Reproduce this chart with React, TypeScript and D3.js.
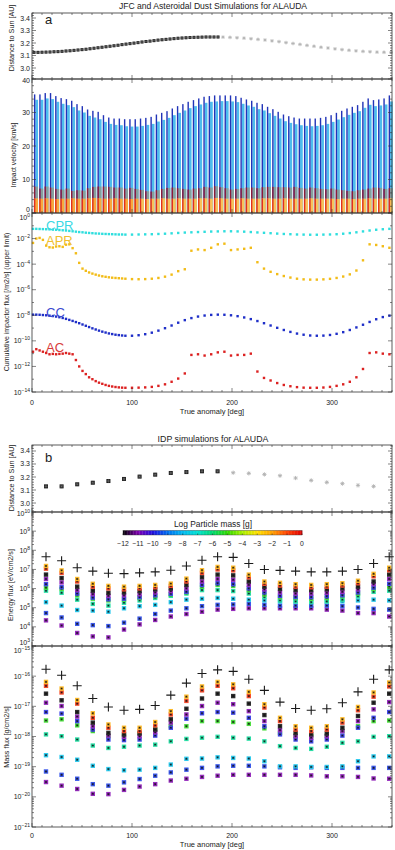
import React from "react";
import * as d3 from "d3";

const FONT = "'Liberation Sans', Arial, Helvetica, sans-serif";

// ---------------- Panel a : distance to Sun ----------------
const distAAnomBlack = [2,6,10,14,18,22,26,30,34,38,42,46,50,54,58,62,66,70,74,78,82,86,90,94,98,102,106,110,114,118,122,126,130,134,138,142,146,150,154,158,162,166,170,174,178,182,186];
const distABlack = [3.125,3.125,3.126,3.127,3.128,3.130,3.131,3.133,3.136,3.138,3.141,3.144,3.147,3.150,3.154,3.158,3.162,3.166,3.170,3.174,3.178,3.182,3.187,3.191,3.195,3.199,3.203,3.208,3.212,3.215,3.219,3.223,3.226,3.229,3.232,3.235,3.238,3.240,3.242,3.244,3.245,3.246,3.247,3.248,3.248,3.248,3.248];
const distAAnomGray = [191,198,205,212,219,226,233,240,247,254,261,268,275,282,289,296,303,310,317,324,331,338,345,352,359];
const distAGray = [3.247,3.245,3.242,3.239,3.234,3.229,3.224,3.217,3.211,3.203,3.196,3.189,3.181,3.174,3.166,3.160,3.153,3.147,3.142,3.137,3.133,3.130,3.127,3.126,3.125];

// ---------------- Panel a : impact velocity (km/s) ----------------
const velCC = [35.4,35.4,35.8,35.8,34.9,34.3,34.0,33.5,32.5,31.9,30.9,30.5,30.2,29.2,28.5,28.2,28.2,28.0,28.0,28.0,28.2,28.4,28.7,29.4,29.9,30.4,31.2,31.9,32.5,33.2,33.7,34.2,34.7,34.9,35.1,35.1,35.1,35.1,34.9,34.4,33.9,33.5,32.9,32.5,31.7,31.0,30.2,29.4,28.9,28.5,28.2,28.2,28.2,28.2,28.4,28.7,29.2,29.9,30.5,31.2,31.7,32.2,33.2,34.2,33.7,33.9,34.2,35.1];
const velCPR = [33.8,33.8,34.2,34.0,33.2,32.6,32.2,31.6,30.6,30.0,29.0,28.5,28.0,27.2,26.6,26.3,26.2,25.9,25.8,25.8,26.0,26.3,26.6,27.3,27.8,28.4,29.2,29.9,30.6,31.3,31.9,32.4,32.9,33.2,33.3,33.4,33.4,33.3,33.1,32.6,32.1,31.7,31.0,30.6,29.8,29.0,28.2,27.4,26.9,26.5,26.2,26.0,25.9,26.0,26.2,26.6,27.2,27.9,28.6,29.3,29.9,30.4,31.4,32.3,31.9,32.1,32.4,33.3];
const velAC = [7.9,7.3,7.9,7.6,7.2,7.0,7.3,6.6,6.8,6.7,7.4,7.8,7.9,7.9,7.8,7.6,7.6,7.3,7.5,7.2,6.9,6.5,6.4,6.8,7.2,7.5,7.6,7.4,7.2,7.0,7.3,7.4,7.8,7.6,8.0,7.7,7.4,7.0,7.2,7.4,7.6,7.6,7.4,7.7,7.8,7.8,7.7,7.7,7.6,7.8,7.5,7.3,7.6,7.4,7.2,7.1,7.3,7.0,6.8,6.6,6.5,6.8,7.0,7.3,7.6,7.5,7.2,7.4];
const velAPR = [4.4,4.3,4.4,4.3,4.2,4.3,4.3,4.4,4.3,4.3,4.4,4.5,4.4,4.3,4.3,4.4,4.3,4.3,4.2,4.3,4.3,4.2,4.3,4.3,4.4,4.3,4.3,4.4,4.3,4.3,4.3,4.4,4.4,4.3,4.5,4.4,4.3,4.3,4.3,4.4,4.3,4.3,4.3,4.4,4.4,4.3,4.3,4.4,4.3,4.3,4.3,4.3,4.4,4.3,4.3,4.3,4.3,4.2,4.3,4.3,4.2,4.3,4.3,4.4,4.3,4.3,4.3,4.4];

// ---------------- Panel a : cumulative impactor flux (log10 /m2/s) ----------------
const fluxAnom = [1,4.3,7.6,10.9,14.2,17.5,20.8,24.1,27.4,30.7,34,37.3,40.6,43.9,47.2,50.5,53.8,57.1,60.4,63.7,67,70.3,73.6,76.9,80.2,83.5,86.8,90.1,93.4,100,106.6,113.2,119.8,126.4,133,139.6,146.2,152.8,159.4,166,172.6,179.2,185.8,192.4,199,205.6,212.2,218.8,225.4,232,238.6,245.2,251.8,258.4,265,271.6,278.2,284.8,291.4,298,304.6,311.2,317.8,324.4,331,337.6,344.2,350.8,357.4];
const logCPR = [-1.24,-1.24,-1.25,-1.26,-1.27,-1.28,-1.30,-1.31,-1.33,-1.35,-1.37,-1.40,-1.43,-1.46,-1.49,-1.51,-1.54,-1.56,-1.58,-1.60,-1.61,-1.63,-1.64,-1.65,-1.66,-1.67,-1.68,-1.68,-1.69,-1.69,-1.68,-1.67,-1.66,-1.64,-1.62,-1.59,-1.56,-1.53,-1.51,-1.49,-1.47,-1.45,-1.44,-1.43,-1.43,-1.44,-1.46,-1.49,-1.52,-1.55,-1.58,-1.61,-1.64,-1.66,-1.68,-1.69,-1.70,-1.70,-1.69,-1.68,-1.66,-1.62,-1.57,-1.51,-1.44,-1.37,-1.31,-1.27,-1.24];
const logAPR = [-2.34,-2.00,-1.95,-2.10,-2.55,-2.68,-2.70,-2.62,-2.60,-2.65,-2.48,-2.45,-2.75,-3.15,-3.90,-4.35,-4.52,-4.65,-4.74,-4.82,-4.89,-4.95,-4.99,-5.03,-5.06,-5.08,-5.10,-5.12,-5.14,-5.17,-5.18,-5.17,-5.14,-5.08,-4.98,-4.82,-4.55,-4.40,-2.95,-2.85,-2.90,-2.72,-2.45,-2.40,-2.90,-2.85,-2.80,-2.72,-3.85,-4.35,-4.60,-4.78,-4.93,-5.05,-5.14,-5.19,-5.21,-5.21,-5.19,-5.15,-5.08,-4.97,-4.80,-4.50,-3.70,-2.45,-2.50,-2.60,-2.72];
const logCC = [-7.95,-7.95,-7.96,-7.98,-8.00,-8.03,-8.06,-8.10,-8.15,-8.21,-8.28,-8.36,-8.44,-8.53,-8.62,-8.72,-8.82,-8.92,-9.02,-9.11,-9.20,-9.28,-9.35,-9.42,-9.47,-9.52,-9.55,-9.58,-9.60,-9.60,-9.56,-9.48,-9.36,-9.20,-9.01,-8.80,-8.58,-8.38,-8.22,-8.10,-8.02,-7.97,-7.95,-7.96,-8.00,-8.07,-8.17,-8.30,-8.45,-8.62,-8.80,-8.98,-9.15,-9.30,-9.43,-9.52,-9.58,-9.60,-9.59,-9.54,-9.45,-9.32,-9.15,-8.95,-8.74,-8.52,-8.31,-8.14,-8.03];
const logAC = [-10.85,-10.65,-10.75,-10.85,-10.95,-11.05,-11.02,-11.05,-11.02,-11.00,-10.95,-11.00,-11.05,-11.50,-12.00,-12.35,-12.60,-12.85,-13.00,-13.15,-13.27,-13.36,-13.45,-13.52,-13.57,-13.61,-13.64,-13.66,-13.67,-13.67,-13.66,-13.64,-13.60,-13.52,-13.40,-13.20,-12.95,-12.55,-11.10,-11.05,-11.15,-11.05,-10.90,-10.85,-11.15,-11.10,-11.10,-11.00,-12.40,-12.90,-13.10,-13.30,-13.45,-13.55,-13.62,-13.66,-13.67,-13.67,-13.65,-13.60,-13.52,-13.40,-13.20,-12.85,-12.20,-10.95,-10.90,-11.00,-11.05];

// ---------------- Panel b ----------------
const idpAnom = [14,29.6,45.2,60.8,76.4,92,107.6,123.2,138.8,154.4,170,185.6,201.2,216.8,232.4,248,263.6,279.2,294.8,310.4,326,341.6,357.2];
const distB = [3.128,3.128,3.144,3.156,3.169,3.185,3.203,3.218,3.231,3.238,3.244,3.244,3.233,3.228,3.220,3.210,3.192,3.174,3.159,3.149,3.136,3.128];
const distBBlackCount = 12;

// energy flux, log10 eV/cm2/s
const eTotal = [7.66,7.45,7.09,6.91,6.80,6.78,6.82,6.87,6.96,7.18,7.48,7.66,7.63,7.31,7.00,6.95,6.91,6.87,6.87,6.91,7.00,7.31,7.66];
const eOrange = [7.18,6.95,6.50,6.25,6.14,6.10,6.14,6.19,6.26,6.52,6.96,7.13,7.09,6.73,6.37,6.30,6.23,6.19,6.23,6.28,6.41,6.77,7.09];
const eRed = [7.04,6.82,6.37,6.10,6.01,5.96,6.01,6.07,6.14,6.37,6.82,7.00,6.95,6.59,6.25,6.16,6.10,6.07,6.10,6.16,6.28,6.64,6.96];
const eBlack = [6.73,6.55,6.10,5.89,5.78,5.80,5.87,5.96,6.01,6.19,6.59,6.73,6.69,6.37,6.10,5.98,5.92,5.92,5.96,6.01,6.10,6.37,6.73];
const ePurpleUp = [6.50,6.32,5.92,5.71,5.62,5.65,5.71,5.80,5.87,6.01,6.37,6.50,6.46,6.19,5.96,5.80,5.74,5.74,5.78,5.83,5.96,6.23,6.50];
const eBlueUp = [6.23,6.07,5.74,5.53,5.44,5.47,5.55,5.65,5.73,5.83,6.19,6.28,6.23,6.01,5.80,5.62,5.56,5.56,5.60,5.65,5.80,6.05,6.25];
const eGreen = [6.05,5.98,5.65,5.47,5.38,5.42,5.51,5.60,5.69,5.80,6.10,6.19,6.14,5.92,5.69,5.55,5.51,5.47,5.51,5.60,5.74,5.98,6.10];
const eTeal = [5.89,5.78,5.42,5.20,5.11,5.26,5.38,5.51,5.62,5.74,5.92,5.92,5.87,5.74,5.56,5.38,5.33,5.29,5.33,5.42,5.60,5.83,5.89];
const eCyan = [5.29,5.11,4.88,4.85,4.79,4.97,5.08,5.15,5.29,5.42,5.47,5.51,5.47,5.42,5.38,5.33,5.33,5.33,5.33,5.33,5.38,5.42,5.38];
const eBlueLow = [4.72,4.49,4.16,4.09,4.04,4.22,4.43,4.67,4.85,4.97,5.08,5.15,5.17,5.20,5.15,5.11,5.11,5.11,5.11,5.08,5.01,4.94,4.90];
const ePurpleLow = [4.34,4.07,3.68,3.50,3.45,3.86,4.13,4.36,4.54,4.67,4.79,4.90,4.94,4.97,4.97,4.97,4.97,4.97,4.90,4.85,4.72,4.72,4.54];

// mass flux, log10 g/cm2/s
const mTotal = [-15.77,-15.97,-16.32,-16.74,-17.02,-17.13,-17.10,-16.97,-16.63,-16.23,-15.91,-15.79,-15.84,-16.10,-16.47,-16.86,-17.07,-17.13,-17.08,-16.88,-16.52,-16.10,-15.79];
const mOrange = [-16.19,-16.41,-16.79,-17.23,-17.60,-17.71,-17.71,-17.52,-17.16,-16.68,-16.34,-16.19,-16.27,-16.52,-16.93,-17.38,-17.66,-17.71,-17.66,-17.43,-17.02,-16.54,-16.21];
const mRed = [-16.32,-16.54,-16.91,-17.38,-17.71,-17.82,-17.82,-17.63,-17.27,-16.82,-16.47,-16.32,-16.40,-16.66,-17.04,-17.49,-17.77,-17.82,-17.77,-17.54,-17.13,-16.68,-16.34];
const mBlack = [-16.58,-16.80,-17.19,-17.54,-17.88,-17.93,-17.90,-17.77,-17.43,-17.08,-16.74,-16.58,-16.66,-16.91,-17.29,-17.66,-17.88,-17.93,-17.90,-17.71,-17.32,-16.88,-16.58];
const mPurpleUp = [-16.88,-16.99,-17.34,-17.66,-17.97,-18.01,-17.99,-17.86,-17.54,-17.27,-16.99,-16.88,-16.93,-17.16,-17.49,-17.79,-17.99,-18.04,-17.99,-17.82,-17.49,-17.10,-16.86];
const mBlueUp = [-17.19,-17.24,-17.49,-17.77,-18.10,-18.12,-18.10,-17.97,-17.71,-17.41,-17.23,-17.19,-17.21,-17.38,-17.66,-17.93,-18.10,-18.16,-18.10,-17.97,-17.71,-17.38,-17.19];
const mGreen = [-17.47,-17.43,-17.63,-17.82,-17.99,-17.97,-17.88,-17.77,-17.66,-17.66,-17.49,-17.49,-17.52,-17.58,-17.73,-17.88,-17.97,-17.99,-17.97,-17.82,-17.66,-17.49,-17.47];
const mTeal = [-17.93,-17.99,-18.10,-18.30,-18.38,-18.34,-18.30,-18.27,-18.16,-18.08,-18.04,-18.01,-18.04,-18.07,-18.16,-18.32,-18.38,-18.41,-18.34,-18.21,-18.16,-18.01,-17.99];
const mCyan = [-18.62,-18.68,-18.77,-18.97,-19.08,-19.12,-19.10,-19.04,-18.93,-18.74,-18.73,-18.69,-18.71,-18.73,-18.82,-18.99,-18.99,-19.01,-19.01,-18.99,-18.82,-18.66,-18.66];
const mBlueLow = [-19.16,-19.27,-19.40,-19.58,-19.63,-19.52,-19.41,-19.30,-19.19,-19.10,-19.04,-18.99,-18.97,-18.97,-18.99,-19.02,-19.04,-19.02,-19.04,-19.04,-19.04,-19.04,-19.04];
const mPurpleLow = [-19.51,-19.63,-19.74,-19.90,-19.91,-19.77,-19.66,-19.58,-19.46,-19.40,-19.34,-19.30,-19.27,-19.27,-19.27,-19.27,-19.27,-19.29,-19.32,-19.32,-19.34,-19.39,-19.40];

// log particle mass [g] of each marker series (draw order: bottom first)
const seriesMass = [-11.0, -9.6, -7.8, -6.4, -5.2, -9.8, -11.0, -12.0, -0.6, -2.2];
const energySeries = [ePurpleLow, eBlueLow, eCyan, eTeal, eGreen, eBlueUp, ePurpleUp, eBlack, eRed, eOrange];
const massSeries = [mPurpleLow, mBlueLow, mCyan, mTeal, mGreen, mBlueUp, mPurpleUp, mBlack, mRed, mOrange];

const cbStops = [-12,-11,-10,-9,-8,-7,-6,-5,-4,-3,-2,-1,0];
const cbColors = ["#000000","#8000b0","#2010e0","#0070f0","#00b8f0","#00e0d0","#00d870","#30d800","#a8f000","#ffe000","#ffa000","#ff4000","#e00000"];

// ---------------- layout ----------------
const X0 = 32, X1 = 392;
const x = d3.scaleLinear().domain([0, 360]).range([X0, X1]);
const yDistA = d3.scaleLinear().domain([2.912, 3.44]).range([79, 13]);
const yVel = d3.scaleLinear().domain([0, 40]).range([213, 79]);
const yFlux = d3.scaleLog().domain([1e-14, 1]).range([392, 213]);
const yDistB = d3.scaleLinear().domain([2.931, 3.446]).range([512, 445]);
const yEn = d3.scaleLog().domain([1e3, 1e10]).range([646, 512]);
const yMass = d3.scaleLog().domain([1e-21, 1e-15]).range([827, 646]);

type Tick = { y: number; major: boolean };

function linTicks(s: d3.ScaleLinear<number, number>, major: number[], minorStep: number): Tick[] {
  const [a, b] = s.domain();
  const out: Tick[] = [];
  const start = Math.ceil(a / minorStep - 1e-6) * minorStep;
  for (let v = start; v <= b + 1e-9; v += minorStep) {
    const isMaj = major.some((m) => Math.abs(m - v) < 1e-6);
    out.push({ y: s(v), major: isMaj });
  }
  return out;
}
function logTicks(s: d3.ScaleLogarithmic<number, number>, e0: number, e1: number, mode: "decade" | "even"): Tick[] {
  const out: Tick[] = [];
  for (let e = e0; e <= e1; e++) {
    if (mode === "even") {
      out.push({ y: s(Math.pow(10, e)), major: e % 2 === 0 });
    } else {
      out.push({ y: s(Math.pow(10, e)), major: true });
      if (e < e1) for (let k = 2; k <= 9; k++) out.push({ y: s(k * Math.pow(10, e)), major: false });
    }
  }
  return out;
}

function Frame({ y0, y1, ticks }: { y0: number; y1: number; ticks: Tick[] }) {
  const els: React.ReactNode[] = [];
  d3.range(0, 361, 10).forEach((v) => {
    const len = v % 100 === 0 ? 4 : 2;
    const px = x(v);
    els.push(<line key={"b" + v} x1={px} x2={px} y1={y1} y2={y1 - len} />);
    els.push(<line key={"t" + v} x1={px} x2={px} y1={y0} y2={y0 + len} />);
  });
  ticks.forEach((t, i) => {
    if (t.y < y0 - 0.5 || t.y > y1 + 0.5) return;
    const len = t.major ? 4 : 2;
    els.push(<line key={"l" + i} x1={X0} x2={X0 + len} y1={t.y} y2={t.y} />);
    els.push(<line key={"r" + i} x1={X1} x2={X1 - len} y1={t.y} y2={t.y} />);
  });
  return (
    <g stroke="#333" strokeWidth={0.6} fill="none">
      {els}
      <rect x={X0} y={y0} width={X1 - X0} height={y1 - y0} strokeWidth={0.8} />
    </g>
  );
}

function LinLabels({ s, vals, fmt, nudge = {} }: { s: (v: number) => number; vals: number[]; fmt: (v: number) => string; nudge?: Record<string, number> }) {
  return (
    <g fontSize={7} fill="#222" textAnchor="end">
      {vals.map((v) => (
        <text key={v} x={30} y={s(v) + 2.5 + (nudge[String(v)] || 0)}>{fmt(v)}</text>
      ))}
    </g>
  );
}
function LogLabels({ s, exps, nudge = {} }: { s: (v: number) => number; exps: number[]; nudge?: Record<string, number> }) {
  return (
    <g fill="#222" textAnchor="end">
      {exps.map((e) => (
        <text key={e} x={30} y={s(Math.pow(10, e)) + 2.5 + (nudge[String(e)] || 0)} fontSize={7}>
          10<tspan fontSize={5} dy={-3}>{e < 0 ? "\u2212" + Math.abs(e) : String(e)}</tspan>
        </text>
      ))}
    </g>
  );
}
function YTitle({ x: tx, y: ty, text, size = 7.2 }: { x: number; y: number; text: string; size?: number }) {
  return (
    <text transform={`translate(${tx},${ty}) rotate(-90)`} textAnchor="middle" fontSize={size} fill="#222">{text}</text>
  );
}
function XAxisLabels({ yl, yt }: { yl: number; yt: number }) {
  return (
    <g fill="#222" textAnchor="middle">
      {[0, 100, 200, 300].map((v) => (
        <text key={v} x={x(v)} y={yl} fontSize={7}>{v}</text>
      ))}
      <text x={(X0 + X1) / 2} y={yt} fontSize={7.5}>True anomaly [deg]</text>
    </g>
  );
}

function Asterisk({ cx, cy, r, color, w }: { cx: number; cy: number; r: number; color: string; w: number }) {
  const d = r * 0.7071;
  return (
    <path
      d={`M${cx - r},${cy}H${cx + r}M${cx},${cy - r}V${cy + r}M${cx - d},${cy - d}L${cx + d},${cy + d}M${cx - d},${cy + d}L${cx + d},${cy - d}`}
      stroke={color}
      strokeWidth={w}
      fill="none"
    />
  );
}

export default function App() {
  const cmap = d3.scaleLinear<string>().domain(cbStops).range(cbColors).interpolate(d3.interpolateRgb);
  const markerColor = (m: number) => d3.interpolateRgb(cmap(m), "#ffffff")(0.18);
  const vBand = d3.scaleBand<number>().domain(d3.range(velCC.length)).range([x(0), x(360)]);
  const bw = vBand.bandwidth();

  // colorbar
  const cbX = d3.scaleLinear().domain([-12, 0]).range([123, 302]);
  const cbSteps = d3.range(-12, 0, 0.1);

  return (
    <div style={{ position: "absolute", left: 0, top: 0 }}>
      <svg width={395} height={850} viewBox="0 0 395 850" style={{ display: "block", background: "#fff" }} fontFamily={FONT}>
        <rect x={0} y={0} width={395} height={850} fill="#fff" />

        {/* ===================== Panel a ===================== */}
        <text x={213} y={8.5} textAnchor="middle" fontSize={8.6} fill="#222">JFC and Asteroidal Dust Simulations for ALAUDA</text>

        {/* distance */}
        {distAAnomGray.map((a, i) => (
          <Asterisk key={"ga" + i} cx={x(a)} cy={yDistA(distAGray[i])} r={1.8} color="#b4b4b4" w={0.9} />
        ))}
        {distAAnomBlack.map((a, i) => (
          <g key={"ba" + i}>
            <rect x={x(a) - 1.5} y={yDistA(distABlack[i]) - 1.5} width={3} height={3} fill="#151515" />
            <Asterisk cx={x(a)} cy={yDistA(distABlack[i])} r={1.6} color="#666" w={0.4} />
          </g>
        ))}
        <Frame y0={13} y1={79} ticks={linTicks(yDistA, [3.0, 3.1, 3.2, 3.3, 3.4], 0.02)} />
        <LinLabels s={yDistA} vals={[3.0, 3.1, 3.2, 3.3, 3.4]} fmt={(v) => v.toFixed(1)} />
        <text x={45} y={24} fontSize={13} fill="#222">a</text>
        <YTitle x={14} y={38} text="Distance to Sun [AU]" />

        {/* velocity bars */}
        <g>
          {velCC.map((v, i) => {
            const c = (vBand(i) as number) + bw / 2;
            const y0 = yVel(0);
            const yApr = yVel(velAPR[i]);
            const yAc = yVel(velAC[i]);
            return (
              <g key={"v" + i}>
                <rect x={c + 0.7} y={yVel(velCPR[i])} width={2.7} height={y0 - yVel(velCPR[i])} fill="#4cbdee" />
                <rect x={c - 0.7} y={yVel(v)} width={1.4} height={y0 - yVel(v)} fill="#2234b8" />
                <rect x={c + 0.7} y={yAc} width={2.7} height={yApr - yAc} fill="#9a9580" opacity={0.75} />
                <rect x={c - 0.7} y={yApr} width={4.1} height={y0 - yApr} fill={i < 20 ? "#f9a83c" : "#f8c25a"} />
                <rect x={c - 0.7} y={yAc} width={1.4} height={yApr - yAc} fill="#8c1c38" />
                <rect x={c - 0.7} y={yApr} width={1.4} height={y0 - yApr} fill="#e2301e" />
              </g>
            );
          })}
        </g>
        <Frame y0={79} y1={213} ticks={linTicks(yVel, [0, 10, 20, 30, 40], 2)} />
        <LinLabels s={yVel} vals={[0, 10, 20, 30, 40]} fmt={(v) => String(v)} nudge={{ "0": -4, "40": 1.5 }} />
        <YTitle x={16} y={155} text="Impact velocity [km/s]" size={6.8} />

        {/* flux */}
        {[
          { d: logCPR, c: "#2fdede" },
          { d: logAPR, c: "#f2bc18" },
          { d: logCC, c: "#1f2fc8" },
          { d: logAC, c: "#dc2222" },
        ].map((s, si) => (
          <g key={"fs" + si} fill={s.c}>
            {s.d.map((lv, i) => (
              <rect key={i} x={x(fluxAnom[i]) - 1.2} y={yFlux(Math.pow(10, lv)) - 1.2} width={2.4} height={2.4} />
            ))}
          </g>
        ))}
        <g fontSize={13}>
          <text x={46} y={230} fill="#3ad8e4">CPR</text>
          <text x={46} y={245} fill="#f0c030">APR</text>
          <text x={46} y={317} fill="#3a48d0">CC</text>
          <text x={46} y={352} fill="#d83a3a">AC</text>
        </g>
        <Frame y0={213} y1={392} ticks={logTicks(yFlux, -14, 0, "even")} />
        <LogLabels s={yFlux} exps={[0, -2, -4, -6, -8, -10, -12, -14]} nudge={{ "0": 4.5 }} />
        <YTitle x={9} y={302} text="Cumulative impactor flux [/m2/s] (upper limit)" size={7} />
        <XAxisLabels yl={405} yt={414} />

        {/* ===================== Panel b ===================== */}
        <text x={213} y={442} textAnchor="middle" fontSize={8.8} fill="#222">IDP simulations for ALAUDA</text>

        {distB.map((d, i) =>
          i < distBBlackCount ? (
            <g key={"db" + i}>
              <rect x={x(idpAnom[i]) - 2} y={yDistB(d) - 2} width={4} height={4} fill="#151515" />
              <Asterisk cx={x(idpAnom[i])} cy={yDistB(d)} r={2} color="#777" w={0.45} />
            </g>
          ) : (
            <Asterisk key={"db" + i} cx={x(idpAnom[i])} cy={yDistB(d)} r={2.1} color="#b0b0b0" w={0.9} />
          )
        )}
        <Frame y0={445} y1={512} ticks={linTicks(yDistB, [3.0, 3.1, 3.2, 3.3, 3.4], 0.02)} />
        <LinLabels s={yDistB} vals={[3.0, 3.1, 3.2, 3.3, 3.4]} fmt={(v) => v.toFixed(1)} />
        <text x={45} y={462} fontSize={13} fill="#222">b</text>
        <YTitle x={14} y={478} text="Distance to Sun [AU]" />

        {/* energy flux */}
        {energySeries.map((ser, si) => (
          <g key={"es" + si}>
            {ser.map((lv, i) => {
              const cx = x(idpAnom[i]);
              const cy = yEn(Math.pow(10, lv));
              return (
                <g key={i}>
                  <rect x={cx - 2.2} y={cy - 2.2} width={4.4} height={4.4} fill={markerColor(seriesMass[si])} />
                  <Asterisk cx={cx} cy={cy} r={1.2} color="#111" w={0.5} />
                </g>
              );
            })}
          </g>
        ))}
        {eTotal.map((lv, i) => {
          const cx = x(idpAnom[i]);
          const cy = yEn(Math.pow(10, lv));
          return <path key={"ep" + i} d={`M${cx - 4.5},${cy}H${cx + 4.5}M${cx},${cy - 4.5}V${cy + 4.5}`} stroke="#1a1a1a" strokeWidth={1.1} />;
        })}
        {/* colorbar */}
        <text x={213} y={527} textAnchor="middle" fontSize={8.4} fill="#222">Log Particle mass [g]</text>
        {cbSteps.map((m, i) => (
          <rect key={"cb" + i} x={cbX(m)} y={530.5} width={cbX(m + 0.1) - cbX(m) + 0.3} height={4.5} fill={cmap(m + 0.05)} />
        ))}
        <rect x={123} y={530.5} width={179} height={4.5} fill="none" stroke="#333" strokeWidth={0.4} />
        {d3.range(-12, 1).map((m) => (
          <g key={"cbt" + m}>
            <line x1={cbX(m)} x2={cbX(m)} y1={533.5} y2={535} stroke="#222" strokeWidth={0.5} />
            <text x={cbX(m)} y={546} textAnchor="middle" fontSize={6.8} fill="#222">{m === 0 ? "0" : "\u2212" + Math.abs(m)}</text>
          </g>
        ))}
        <Frame y0={512} y1={646} ticks={logTicks(yEn, 3, 10, "decade")} />
        <LogLabels s={yEn} exps={[3, 4, 5, 6, 7, 8, 9, 10]} nudge={{ "3": -4, "10": 1.5 }} />
        <YTitle x={13} y={585} text="Energy flux [eV/cm2/s]" />

        {/* mass flux */}
        {massSeries.map((ser, si) => (
          <g key={"ms" + si}>
            {ser.map((lv, i) => {
              const cx = x(idpAnom[i]);
              const cy = yMass(Math.pow(10, lv));
              return (
                <g key={i}>
                  <rect x={cx - 2.2} y={cy - 2.2} width={4.4} height={4.4} fill={markerColor(seriesMass[si])} />
                  <Asterisk cx={cx} cy={cy} r={1.2} color="#111" w={0.5} />
                </g>
              );
            })}
          </g>
        ))}
        {mTotal.map((lv, i) => {
          const cx = x(idpAnom[i]);
          const cy = yMass(Math.pow(10, lv));
          return <path key={"mp" + i} d={`M${cx - 4.5},${cy}H${cx + 4.5}M${cx},${cy - 4.5}V${cy + 4.5}`} stroke="#1a1a1a" strokeWidth={1.1} />;
        })}
        <Frame y0={646} y1={827} ticks={logTicks(yMass, -21, -15, "decade")} />
        <LogLabels s={yMass} exps={[-21, -20, -19, -18, -17, -16, -15]} nudge={{ "-15": 4.5 }} />
        <YTitle x={9} y={737} text="Mass flux [g/cm2/s]" />
        <XAxisLabels yl={838} yt={847} />
      </svg>
    </div>
  );
}
